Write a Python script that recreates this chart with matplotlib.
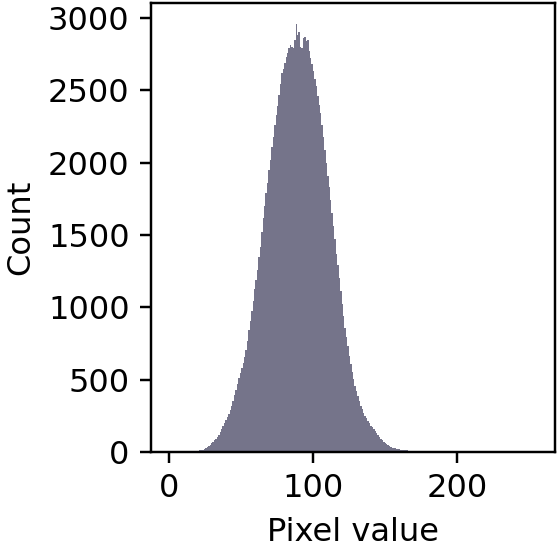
import numpy as np
import matplotlib
matplotlib.use('Agg')
import matplotlib.pyplot as plt

# ---------------------------------------------------------------------------
# Grey-level histogram of the image (one bin per intensity level 0..255)
LEVELS = np.arange(256)

COUNTS_0_49 = [
    0, 0, 0, 0, 0, 0, 0, 0, 0, 0,
    0, 1, 1, 1, 2, 2, 3, 4, 5, 7,
    9, 11, 14, 17, 21, 26, 32, 40, 50, 60,
    70, 80, 93, 106, 120, 138, 160, 180, 200, 222,
    243, 265, 290, 320, 355, 392, 428, 470, 510, 545,
]
COUNTS_50_99 = [
    580, 615, 655, 705, 770, 840, 905, 975, 1045, 1125,
    1190, 1260, 1345, 1420, 1520, 1620, 1700, 1790, 1860, 1950,
    2020, 2110, 2180, 2260, 2330, 2390, 2470, 2540, 2620, 2650,
    2690, 2730, 2760, 2790, 2810, 2800, 2790, 2850, 2955, 2880,
    2900, 2800, 2790, 2860, 2870, 2840, 2845, 2770, 2720, 2680,
]
COUNTS_100_149 = [
    2630, 2580, 2530, 2460, 2400, 2340, 2260, 2180, 2090, 2000,
    1910, 1830, 1740, 1650, 1560, 1470, 1370, 1290, 1200, 1110,
    1020, 940, 860, 795, 730, 665, 605, 555, 505, 455,
    420, 385, 350, 320, 295, 270, 250, 232, 215, 198,
    183, 170, 156, 143, 130, 117, 105, 92, 80, 70,
]
COUNTS_150_199 = [
    60, 52, 46, 40, 35, 31, 28, 25, 22, 20,
    18, 16, 14, 13, 12, 11, 10, 9, 9, 8,
    8, 7, 7, 6, 6, 6, 5, 5, 5, 4,
    4, 4, 4, 3, 3, 3, 2, 2, 2, 1,
    1, 1, 1, 1, 1, 1, 1, 0, 1, 0,
]
COUNTS_200_255 = [0] * 56

COUNTS = COUNTS_0_49 + COUNTS_50_99 + COUNTS_100_149 + COUNTS_150_199 + COUNTS_200_255

BAR_COLOR = '#75748a'
# ---------------------------------------------------------------------------

plt.rcParams['font.size'] = 10.5

fig = plt.figure(figsize=(558 / 220, 552 / 220), dpi=220)
ax = fig.add_axes([151 / 558, 1 - 452 / 552, 404 / 558, 449 / 552])

edges = np.linspace(0, 255, 257)
ax.hist(LEVELS, bins=edges, weights=COUNTS, color=BAR_COLOR)

ax.set_xlabel('Pixel value')
ax.set_ylabel('Count')
ax.set_xticks([0, 100, 200])
ax.set_yticks(range(0, 3001, 500))

fig.savefig('out.png', dpi=220)
